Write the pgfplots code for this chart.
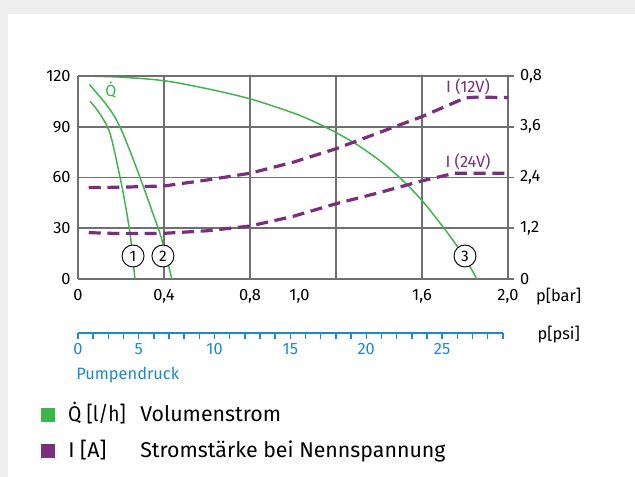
\documentclass[border=0pt]{standalone}
\usepackage{pgfplots}
\pgfplotsset{compat=1.18}
\usepackage{fontspec}
\setmainfont{Fira Sans}
\definecolor{qgreen}{RGB}{61,181,74}
\definecolor{ipurple}{RGB}{123,46,126}
\definecolor{gridgray}{RGB}{112,112,112}
\definecolor{pblue}{RGB}{30,139,200}
\definecolor{bggray}{RGB}{238,238,238}
\newcommand{\tickfont}{\fontsize{12.3}{14}\selectfont}
\pgfplotsset{every axis/.append style={/pgf/number format/assume math mode=true}}
\begin{document}
\begin{tikzpicture}
\path[use as bounding box] (0,0) rectangle (476.25pt,357.75pt);
\fill[bggray] (0,0) rectangle (476.25pt,357.75pt);
\fill[white] (6pt,0) rectangle (476.25pt,347.25pt);
% main axis (Q)
\begin{axis}[
  at={(58.5pt,148.5pt)}, anchor=south west,
  scale only axis, width=322.5pt, height=152.25pt,
  xmin=0, xmax=2, ymin=0, ymax=120,
  xtick={0,0.4,0.8,1.2,1.6,2.0},
  xticklabels={0,{0,4},{0,8},,{1,6},{2,0}},
  extra x ticks={1.03},
  extra x tick labels={1{,}0},
  extra x tick style={grid=none, major tick length=0pt},
  ytick={0,30,60,90,120},
  yticklabels={0,30,60,90,120},
  axis y line*=left,
  axis x line*=bottom,
  axis line style={gridgray, line width=1.4pt, -},
  grid=major,
  major grid style={gridgray, line width=1.4pt},
  major tick length=0pt,
  tick style={draw=none},
  ticklabel style={font=\tickfont, text=black},
  xticklabel style={yshift=-4pt},
  yticklabel style={xshift=-2pt},
  clip=false,
]
\addplot[qgreen, line width=1.1pt, smooth] coordinates {
(0.02,120) (0.2,119.3) (0.4,117.2) (0.6,112.5) (0.8,106.5) (1.0,98.2) (1.1,92.9) (1.2,86.6) (1.3,79.2) (1.4,70.3) (1.5,59.5) (1.6,46.4) (1.7,30.4) (1.75,21.8) (1.8,12.5) (1.855,0)};
\addplot[qgreen, line width=1.1pt, smooth] coordinates {
(0.056,105) (0.1,98) (0.149,86) (0.195,60.5) (0.22,44) (0.242,27) (0.255,12) (0.265,0)};
\addplot[qgreen, line width=1.1pt, smooth] coordinates {
(0.053,115) (0.1,108) (0.15,100) (0.195,90) (0.25,73) (0.304,54.6) (0.345,40) (0.381,27) (0.41,14) (0.436,0)};
\draw[gridgray, line width=1.4pt] (axis cs:0,120) -- (axis cs:2,120);
\node[text=qgreen, font=\fontsize{12}{14}\selectfont] at (axis cs:0.153,111.5) {\.{Q}};
\node[text=ipurple, font=\fontsize{12.3}{14}\selectfont] at (axis cs:1.814,113.5) {I (12V)};
\node[text=ipurple, font=\fontsize{12.3}{14}\selectfont] at (axis cs:1.814,69.4) {I (24V)};
\node[circle, draw=black, line width=0.7pt, fill=white, minimum size=16.5pt, inner sep=0pt, font=\fontsize{11.5}{13}\selectfont] at (axis cs:0.256,13.6) {1};
\node[circle, draw=black, line width=0.7pt, fill=white, minimum size=16.5pt, inner sep=0pt, font=\fontsize{11.5}{13}\selectfont] at (axis cs:0.395,13.6) {2};
\node[circle, draw=black, line width=0.7pt, fill=white, minimum size=16.5pt, inner sep=0pt, font=\fontsize{11.5}{13}\selectfont] at (axis cs:1.8,13.6) {3};
\end{axis}
% current axis (I)
\begin{axis}[
  at={(58.5pt,148.5pt)}, anchor=south west,
  scale only axis, width=322.5pt, height=152.25pt,
  xmin=0, xmax=2, ymin=0, ymax=4.8,
  axis x line=none,
  axis y line*=right,
  axis line style={gridgray, line width=1.4pt, -},
  ytick={0,1.2,2.4,3.6,4.8},
  yticklabels={0,{1,2},{2,4},{3,6},{0,8}},
  tick align=outside,
  major tick length=4.5pt,
  tick style={gridgray, line width=1.4pt},
  ticklabel style={font=\tickfont, text=black},
  yticklabel style={xshift=1pt},
]
\addplot[ipurple, line width=2.4pt, dash pattern=on 9pt off 5pt] coordinates {
(0.05,2.16) (0.2,2.17) (0.4,2.2) (0.6,2.34) (0.8,2.5) (1.0,2.76) (1.2,3.08) (1.4,3.46) (1.6,3.84) (1.8,4.28) (1.85,4.3) (2.0,4.29)};
\addplot[ipurple, line width=2.4pt, dash pattern=on 9pt off 5pt] coordinates {
(0.05,1.096) (0.2,1.072) (0.4,1.08) (0.6,1.14) (0.8,1.252) (1.0,1.48) (1.2,1.78) (1.4,2.04) (1.6,2.32) (1.75,2.5) (2.0,2.5)};
\end{axis}
% psi axis
\begin{axis}[
  at={(58.5pt,108pt)}, anchor=south west,
  scale only axis, width=318.6pt, height=10pt,
  xmin=0, xmax=28, ymin=0, ymax=1,
  axis x line=bottom,
  hide y axis,
  axis line style={pblue, line width=1.1pt, -},
  xtick={0,...,28},
  xticklabels={0,,,,5,,,,,10,,,,,15,,,,,20,,,,,25,,,,},
  tick align=outside,
  major tick length=4.5pt,
  tick style={pblue, line width=1.1pt},
  ticklabel style={font=\tickfont, text=pblue},
]
\end{axis}
\node[font=\tickfont] at (419pt,135pt) {p[bar]};
\node[font=\tickfont] at (419pt,106.5pt) {p[psi]};
\node[font=\tickfont, text=pblue, anchor=west, inner sep=0pt] at (57pt,76.5pt) {Pumpendruck};
% legend
\fill[qgreen] (30.75pt,41.5pt) rectangle (41.25pt,52pt);
\fill[ipurple] (30.75pt,14.5pt) rectangle (41.25pt,25pt);
\node[font=\fontsize{16}{19}\selectfont, anchor=base west, inner sep=0pt, xscale=0.9] at (51pt,41.5pt) {\.{Q} [l/h]};
\node[font=\fontsize{16}{19}\selectfont, anchor=base west, inner sep=0pt] at (105pt,41.5pt) {Volumenstrom};
\node[font=\fontsize{16}{19}\selectfont, anchor=base west, inner sep=0pt] at (51pt,14.5pt) {I [A]};
\node[font=\fontsize{16}{19}\selectfont, anchor=base west, inner sep=0pt] at (105pt,14.5pt) {Stromstärke bei Nennspannung};
\end{tikzpicture}
\end{document}
